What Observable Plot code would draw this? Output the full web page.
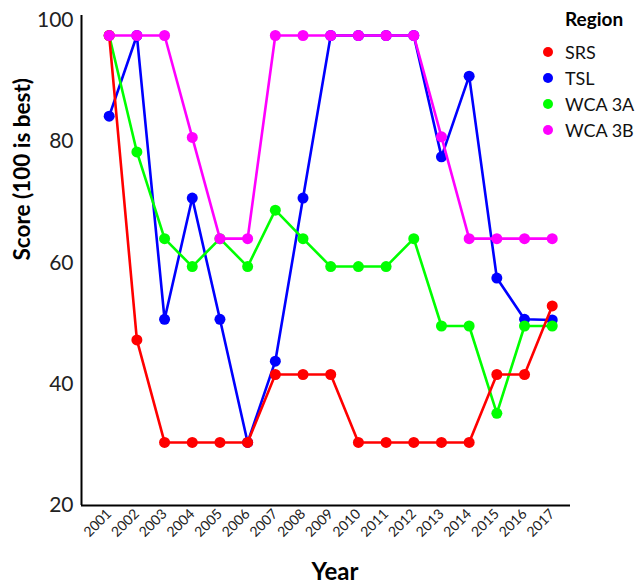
<!DOCTYPE html>
<html>
<head>
<meta charset="utf-8">
<script src="https://cdn.jsdelivr.net/npm/d3@7"></script>
<script src="https://cdn.jsdelivr.net/npm/@observablehq/plot@0.6"></script>
<style>
  body { margin: 0; background: #fff; font-family: Lato, "Open Sans", sans-serif; }
  #wrap { position: relative; width: 643px; height: 584px; }
  .ov { position: absolute; color: #000; white-space: nowrap; }
  #xtitle { left: 335px; top: 570px; font-weight: bold; font-size: 24px; transform: translate(-50%, -50%); }
  #legend { left: 540px; top: 7px; }
  #legend .head { font-weight: bold; font-size: 19px; margin-left: 25px; line-height: 24px; margin-bottom: 8px; }
  #legend .item { display: flex; align-items: center; height: 26px; font-size: 18px; color: #111; }
  #legend .sw { width: 10px; height: 10px; border-radius: 50%; margin-left: 3px; margin-right: 12px; }
</style>
</head>
<body>
<div id="wrap">
  <div id="chart"></div>
  <div class="ov" id="xtitle">Year</div>
  <div class="ov" id="legend"></div>
</div>
<script>
const years = [2001,2002,2003,2004,2005,2006,2007,2008,2009,2010,2011,2012,2013,2014,2015,2016,2017];
const regions = ["SRS", "TSL", "WCA 3A", "WCA 3B"];
const colors = ["#ff0000", "#0000ff", "#00ff00", "#ff00ff"];
const srs   = [97.5, 47.3, 30.4, 30.4, 30.4, 30.4, 41.6, 41.6, 41.6, 30.4, 30.4, 30.4, 30.4, 30.4, 41.6, 41.6, 52.9];
const tsl   = [84.2, 97.5, 50.7, 70.7, 50.7, 30.4, 43.8, 70.7, 97.5, 97.5, 97.5, 97.5, 77.5, 90.8, 57.5, 50.7, 50.6];
const wca3a = [97.5, 78.3, 64.0, 59.4, 64.0, 59.4, 68.7, 64.0, 59.4, 59.4, 59.4, 64.0, 49.6, 49.6, 35.2, 49.6, 49.6];
const wca3b = [97.5, 97.5, 97.5, 80.7, 64.0, 64.0, 97.5, 97.5, 97.5, 97.5, 97.5, 97.5, 80.8, 64.0, 64.0, 64.0, 64.0];
const yTicks = [20, 40, 60, 80, 100];
const drawOrder = ["TSL", "WCA 3A", "SRS", "WCA 3B"];
const yTitle = "Score (100 is best)";

const seriesValues = {"SRS": srs, "TSL": tsl, "WCA 3A": wca3a, "WCA 3B": wca3b};
const rows = regions.flatMap(r => years.map((yr, i) => ({region: r, year: yr, score: seriesValues[r][i]})));

const xMin = years[0] - 1;
const yMin = yTicks[0];

const seriesMarks = drawOrder.flatMap(r => {
  const d = rows.filter(o => o.region === r);
  return [
    Plot.line(d, {x: "year", y: "score", stroke: "region", strokeWidth: 2.6}),
    Plot.dot(d, {x: "year", y: "score", fill: "region", r: 5.5})
  ];
});

const chart = Plot.plot({
  width: 643,
  height: 584,
  marginLeft: 81,
  marginRight: 73,
  marginTop: 15,
  marginBottom: 79,
  style: {fontFamily: "Lato, sans-serif", background: "white"},
  x: {type: "linear", domain: [xMin, years[years.length - 1] + 0.66]},
  y: {domain: [yMin, 100.8]},
  color: {domain: regions, range: colors},
  marks: [
    Plot.axisY({ticks: yTicks, tickSize: 0, tickPadding: 8, fontSize: 21, fill: "#222", label: null}),
    Plot.axisX({ticks: years, tickFormat: d => String(d), tickRotate: -45, tickSize: 0, tickPadding: 6, fontSize: 14, fill: "#222", label: null}),
    Plot.text([yTitle], {frameAnchor: "left", rotate: -90, dx: -59, dy: 0, fontSize: 22.5, fontWeight: "bold", fill: "#000"}),
    Plot.ruleX([xMin], {stroke: "#000", strokeWidth: 2}),
    Plot.ruleY([yMin], {stroke: "#000", strokeWidth: 2}),
    ...seriesMarks
  ]
});
document.getElementById("chart").appendChild(chart);

const legend = document.getElementById("legend");
const head = document.createElement("div");
head.className = "head";
head.textContent = "Region";
legend.appendChild(head);
regions.forEach((r, i) => {
  const it = document.createElement("div");
  it.className = "item";
  const sw = document.createElement("span");
  sw.className = "sw";
  sw.style.background = colors[i];
  const t = document.createElement("span");
  t.textContent = r;
  it.appendChild(sw);
  it.appendChild(t);
  legend.appendChild(it);
});
</script>
</body>
</html>
